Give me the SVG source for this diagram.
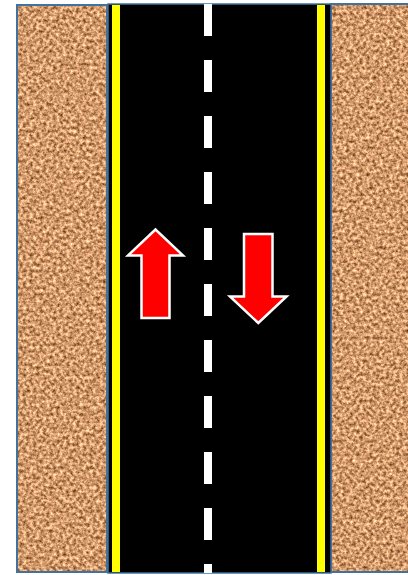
<svg xmlns="http://www.w3.org/2000/svg" width="408" height="575" viewBox="0 0 408 575">
  <defs>
    <filter id="sand" x="0" y="0" width="100%" height="100%" color-interpolation-filters="sRGB">
      <feTurbulence type="fractalNoise" baseFrequency="0.3" numOctaves="3" seed="7" result="n"/>
      <feColorMatrix in="n" type="matrix" values="1.1 0 0 0 0.27  1.0 0 0 0 0.10  0.9 0 0 0 -0.03  0 0 0 0 1"/>
    </filter>
    <style>
      .sand { filter: url(#sand); }
      .edge { fill: none; stroke: #41719C; stroke-width: 2; }
      .yellow { fill: #FFFF00; }
      .dash { fill: #FFFFFF; }
      .arrow { fill: #FF0000; stroke: #FFFFFF; stroke-width: 2.5; stroke-linejoin: miter; }
    </style>
  </defs>
  <rect width="408" height="575" fill="#FFFFFF"/>

  <g id="sand-left">
    <rect class="sand" x="16" y="5" width="92" height="568" fill="#D09C6E"/>
    <rect class="edge" x="17" y="5" width="90" height="567"/>
  </g>

  <g id="sand-right">
    <rect class="sand" x="330" y="3" width="80" height="570" fill="#D09C6E"/>
    <rect class="edge" x="331" y="4" width="80" height="568"/>
  </g>

  <g id="road">
    <rect x="108" y="4" width="223" height="569" fill="#000000" stroke="#41719C" stroke-width="1.5"/>
    <rect class="yellow" x="112" y="5" width="8" height="567"/>
    <rect class="yellow" x="317" y="5" width="8" height="567"/>
  </g>

  <g id="center-dashes">
    <rect class="dash" x="204" y="4" width="8" height="32"/>
    <rect class="dash" x="204" y="60" width="8" height="32"/>
    <rect class="dash" x="204" y="116" width="8" height="32"/>
    <rect class="dash" x="204" y="172" width="8" height="32"/>
    <rect class="dash" x="204" y="228" width="8" height="32"/>
    <rect class="dash" x="204" y="284" width="8" height="32"/>
    <rect class="dash" x="204" y="340" width="8" height="32"/>
    <rect class="dash" x="204" y="396" width="8" height="32"/>
    <rect class="dash" x="204" y="452" width="8" height="32"/>
    <rect class="dash" x="204" y="508" width="8" height="32"/>
    <rect class="dash" x="204" y="564" width="8" height="9"/>
  </g>

  <g id="arrow-up">
    <polygon class="arrow" points="155.5,229.5 128,255.5 141.5,255.5 141.5,318 169.5,318 169.5,255.5 183,255.5"/>
  </g>

  <g id="arrow-down">
    <polygon class="arrow" points="244,234 272.5,234 272.5,296.5 286.5,296.5 258.3,323 230,296.5 244,296.5"/>
  </g>
</svg>
